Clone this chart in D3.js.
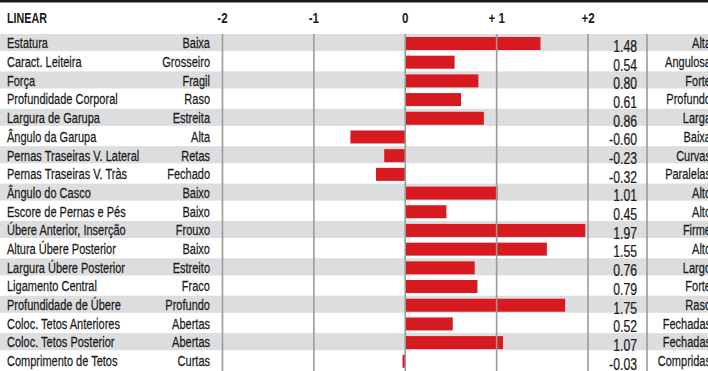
<!DOCTYPE html>
<html>
<head>
<meta charset="utf-8">
<script src="https://cdn.jsdelivr.net/npm/d3@7"></script>
<style>
  html, body { margin: 0; padding: 0; background: #fff; }
  svg { display: block; }
  text { font-family: "Liberation Sans", Arial, sans-serif; fill: #1a1a1a; }
  text.body { stroke: #1a1a1a; stroke-width: 0.25px; }
</style>
</head>
<body>
<svg id="chart" width="708" height="371"></svg>
<script>
// Linear type traits: name, low-end descriptor, high-end descriptor, score
const traits = [
  "Estatura", "Caract. Leiteira", "Força", "Profundidade Corporal", "Largura de Garupa",
  "Ângulo da Garupa", "Pernas Traseiras V. Lateral", "Pernas Traseiras V. Tràs", "Ângulo do Casco",
  "Escore de Pernas e Pés", "Úbere Anterior, Inserção", "Altura Úbere Posterior",
  "Largura Úbere Posterior", "Ligamento Central", "Profundidade de Úbere",
  "Coloc. Tetos Anteriores", "Coloc. Tetos Posterior", "Comprimento de Tetos"
];
const lowLabels = [
  "Baixa", "Grosseiro", "Fragil", "Raso", "Estreita", "Alta", "Retas", "Fechado", "Baixo",
  "Baixo", "Frouxo", "Baixo", "Estreito", "Fraco", "Profundo", "Abertas", "Abertas", "Curtas"
];
const highLabels = [
  "Alta", "Angulosa", "Forte", "Profundo", "Larga", "Baixa", "Curvas", "Paralelas", "Alto",
  "Alto", "Firme", "Alto", "Largo", "Forte", "Raso", "Fechadas", "Fechadas", "Compridas"
];
const scores = [
  1.48, 0.54, 0.80, 0.61, 0.86, -0.60, -0.23, -0.32, 1.01,
  0.45, 1.97, 1.55, 0.76, 0.79, 1.75, 0.52, 1.07, -0.03
];
const tickValues = [-2, -1, 0, 1, 2];
const tickLabels = ["-2", "-1", "0", "+ 1", "+2"];

const W = 708, H = 371;
const NARROW = 0.71;           // horizontal squeeze for a condensed type look
const svg = d3.select("#chart");

const x = d3.scaleLinear().domain([-2, 2]).range([222.5, 588]);
const y = d3.scaleBand().domain(d3.range(traits.length)).range([34, 370.5]);
const bandH = y.bandwidth();
const fmt = v => d3.format(".2f")(v).replace("\u2212", "-");

// draws a condensed text anchored at (px, py)
function label(parent, px, py, str, opts = {}) {
  return parent.append("text")
    .attr("class", opts.weight ? null : "body")
    .attr("transform", `translate(${px},${py}) scale(${opts.sx || NARROW},1)`)
    .attr("text-anchor", opts.anchor || "start")
    .attr("font-size", opts.size || 15.5)
    .attr("font-weight", opts.weight || "normal")
    .text(str);
}

// top rule
svg.append("rect").attr("x", 0).attr("y", 0).attr("width", W).attr("height", 2.5).attr("fill", "#1a1a1a");

// header
label(svg, 7, 23, "LINEAR", { size: 14.5, weight: "bold", sx: 0.74 });
tickValues.forEach((v, i) =>
  label(svg, x(v), 23, tickLabels[i], { size: 14.5, weight: "bold", anchor: "middle", sx: 0.8 }));

// zebra bands
svg.append("g").selectAll("rect").data(d3.range(0, traits.length, 2)).join("rect")
  .attr("x", 0).attr("width", W)
  .attr("y", i => y(i)).attr("height", bandH - 1.6)
  .attr("fill", "#dcdddf");

// bars
svg.append("g").selectAll("rect").data(scores).join("rect")
  .attr("x", d => x(Math.min(0, d)))
  .attr("width", d => Math.abs(x(d) - x(0)))
  .attr("y", (d, i) => y(i) + 3)
  .attr("height", bandH - 5.7)
  .attr("fill", "#d71920");

// grid lines and the column separator
const gridX = tickValues.map(v => x(v)).concat([647]);
svg.append("g").selectAll("line").data(gridX).join("line")
  .attr("x1", d => d).attr("x2", d => d)
  .attr("y1", 34).attr("y2", H)
  .attr("stroke", "#9a9a9a").attr("stroke-width", 1.6);

// row texts
traits.forEach((name, i) => {
  const yc = y(i) + bandH / 2;
  label(svg, 7, yc + 5, name);
  label(svg, 210, yc + 5, lowLabels[i], { anchor: "end" });
  label(svg, 637, yc + 8.5, fmt(scores[i]), { size: 17, anchor: "end", sx: 0.72 });
  label(svg, 711, yc + 5, highLabels[i], { anchor: "end" });
});
</script>
</body>
</html>
